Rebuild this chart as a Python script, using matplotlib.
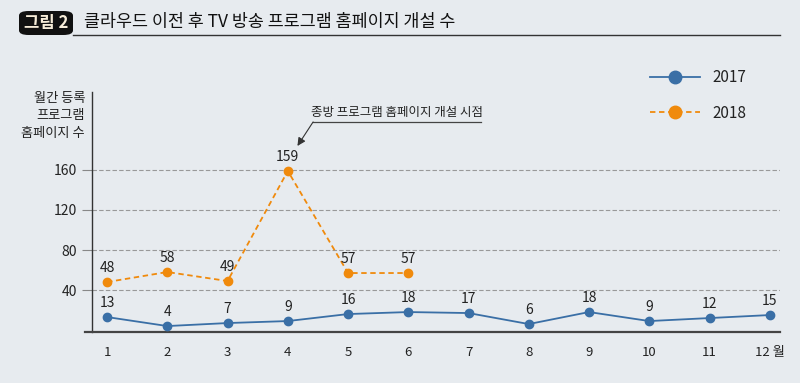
import matplotlib
matplotlib.use("Agg")
import matplotlib.pyplot as plt
from matplotlib.patches import FancyBboxPatch
from matplotlib.lines import Line2D

plt.rcParams['font.family'] = ['Noto Sans CJK KR', 'DejaVu Sans']

months = [1, 2, 3, 4, 5, 6, 7, 8, 9, 10, 11, 12]
month_labels = ['1', '2', '3', '4', '5', '6', '7', '8', '9', '10', '11', '12 월']
v2017 = [13, 4, 7, 9, 16, 18, 17, 6, 18, 9, 12, 15]
months_2018 = [1, 2, 3, 4, 5, 6]
v2018 = [48, 58, 49, 159, 57, 57]
yticks = [40, 80, 120, 160]

title_tag = '그림 2'
title = '클라우드 이전 후 TV 방송 프로그램 홈페이지 개설 수'
ylabel = '월간 등록\n프로그램\n홈페이지 수'
annot = '종방 프로그램 홈페이지 개설 시점'

bg = '#e7ebef'
blue = '#3a6fa6'
orange = '#f08a0c'
txt = '#222222'

fig = plt.figure(figsize=(8, 3.83), dpi=100, facecolor=bg)
ax = fig.add_axes([0.115, 0.133, 0.86, 0.627])
ax.set_facecolor(bg)

ax.plot(months, v2017, color=blue, lw=1.3, marker='o', ms=6, zorder=3)
ax.plot(months_2018, v2018, color=orange, lw=1.3, ls=(0, (3, 2)), marker='o', ms=6, zorder=3)

for x, y in zip(months, v2017):
    ax.text(x, y + 7, str(y), ha='center', va='bottom', fontsize=10, color=txt)
for x, y in zip(months_2018, v2018):
    ax.text(x, y + 7, str(y), ha='center', va='bottom', fontsize=10, color=txt)

ax.set_xlim(0.75, 12.17)
ax.set_ylim(-2, 238)
ax.set_yticks(yticks)
ax.set_yticklabels([str(t) for t in yticks], fontsize=10, color=txt)
ax.set_xticks(months)
ax.set_xticklabels(month_labels, fontsize=9.5, color=txt)
ax.tick_params(axis='x', length=0, pad=10)
ax.tick_params(axis='y', length=7, width=0.8, color='#888888', pad=4)
ax.yaxis.grid(True, ls=(0, (4, 2)), color='#999999', lw=0.8)
ax.set_axisbelow(True)
for s in ['top', 'right']:
    ax.spines[s].set_visible(False)
ax.spines['left'].set_color('#333333')
ax.spines['left'].set_linewidth(1.0)
ax.spines['bottom'].set_color('#444444')
ax.spines['bottom'].set_linewidth(1.6)
ax.spines['bottom'].set_bounds(0.63, 12.17)

# y-axis label
fig.text(85 / 800, 1 - 92 / 383, ylabel, ha='right', va='top', fontsize=9.5,
         color=txt, linespacing=1.45, multialignment='right')

# Annotation
ax.annotate('', xy=(4.16, 184), xytext=(4.42, 208),
            arrowprops=dict(arrowstyle='-|>', color='#333333', lw=0.8, mutation_scale=12,
                            shrinkA=0, shrinkB=0))
ax.plot([4.42, 7.2], [208, 208], color='#444444', lw=0.9, clip_on=False)
ax.text(5.82, 211, annot, ha='center', va='bottom', fontsize=9, color=txt)

# Legend
handles = [Line2D([0], [0], color=blue, lw=1.3, marker='o', ms=9),
           Line2D([0], [0], color=orange, lw=1.3, ls=(0, (3, 2)), marker='o', ms=9)]
leg = fig.legend(handles, ['2017', '2018'], loc='upper left',
                 bbox_to_anchor=(0.795, 0.855), frameon=False, fontsize=11,
                 handlelength=3.3, labelspacing=1.2, handletextpad=0.8)
for t in leg.get_texts():
    t.set_color(txt)

# Title
box = FancyBboxPatch((19 / 800, 1 - 35 / 383), 54 / 800, 24 / 383,
                     boxstyle='round,pad=0,rounding_size=0.012',
                     transform=fig.transFigure, facecolor='#111111', edgecolor='none')
fig.add_artist(box)
fig.text(46 / 800, 1 - 23 / 383, title_tag, ha='center', va='center',
         fontsize=12, fontweight='bold', color='#f6ecd8')
fig.text(84 / 800, 1 - 22 / 383, title, ha='left', va='center',
         fontsize=12.5, color='#111111')
fig.add_artist(Line2D([73 / 800, 780 / 800], [1 - 35 / 383, 1 - 35 / 383],
                      transform=fig.transFigure, color='#333333', lw=1.0))

fig.savefig('out.png', dpi=100, facecolor=bg)
